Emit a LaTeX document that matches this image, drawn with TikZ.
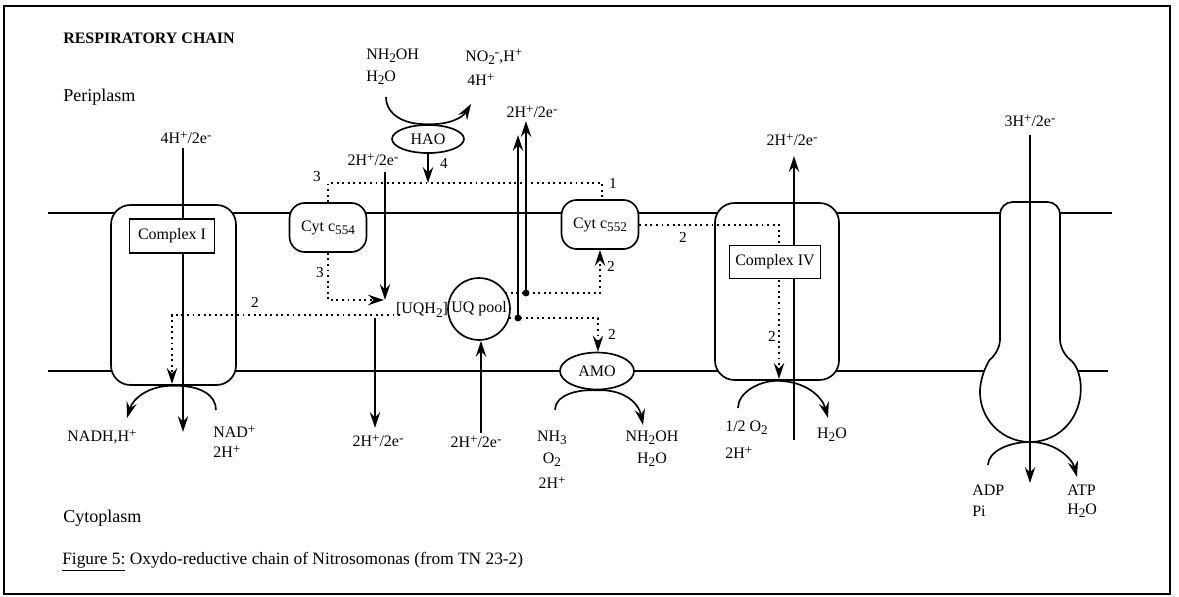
\documentclass[tikz,border=0pt]{standalone}
\usepackage{fontspec}
\setmainfont{Liberation Serif}
\usetikzlibrary{arrows.meta,shapes.geometric}
\newcommand{\msub}[1]{\raisebox{-0.45ex}{\fontsize{9.5}{9.5}\selectfont #1}}
\newcommand{\msup}[1]{\raisebox{0.6ex}{\fontsize{9.5}{9.5}\selectfont #1}}
\tikzset{
  ln/.style={line width=1.2pt},
  tip/.style={-{Stealth[length=11.5pt,width=7.5pt,inset=4pt]}},
  arr/.style={ln, tip},
  dotl/.style={line width=1.4pt, dash pattern=on 1.4pt off 2.6pt},
  darr/.style={dotl, tip},
  lbl/.style={font=\fontsize{11.5}{13}\selectfont, inner sep=0pt},
  num/.style={font=\fontsize{11}{13}\selectfont, inner sep=0pt},
  cplx/.style={draw, ln, fill=white, rounded corners=14pt, inner sep=0pt},
  cyt/.style={draw, ln, fill=white, rounded corners=11pt, inner sep=0pt, font=\fontsize{11.5}{13}\selectfont},
  tbox/.style={draw, ln, fill=white, inner sep=0pt, font=\fontsize{11.5}{13}\selectfont},
  enz/.style={draw, ln, fill=white, ellipse, inner sep=0pt, font=\fontsize{11.5}{13}\selectfont},
  jdot/.style={circle, fill, inner sep=0pt, minimum size=5pt},
}
\begin{document}
\begin{tikzpicture}[x=0.72pt,y=-0.72pt]
\useasboundingbox (0,0) rectangle (1179,597);
\draw[line width=1.3pt] (4,6) rectangle (1170,594);

% titles
\node[anchor=west, font=\bfseries\fontsize{11.5}{13}\selectfont, inner sep=0pt] (title) at (63,38) {RESPIRATORY CHAIN};
\node[anchor=west, font=\fontsize{13}{15}\selectfont, inner sep=0pt] (peri) at (63,97) {Periplasm};
\node[anchor=west, font=\fontsize{13}{15}\selectfont, inner sep=0pt] (cyto) at (63,518) {Cytoplasm};
\node[anchor=west, font=\fontsize{12.5}{15}\selectfont, inner sep=0pt] (cap) at (62,562) {\underline{Figure 5:} Oxydo-reductive chain of Nitrosomonas (from TN 23-2)};

% membrane
\coordinate (mtl) at (48,213); \coordinate (mtr) at (1112,213);
\coordinate (mbl) at (48,371); \coordinate (mbr) at (1108,371);
\draw[ln] (mtl) -- (mtr);
\draw[ln] (mbl) -- (mbr);

% proteins
\node[cplx, minimum width=90pt, minimum height=129.6pt] (CI) at (173.5,295) {};
\node[cplx, minimum width=89.3pt, minimum height=127.4pt] (CIV) at (777,291.5) {};
\node[cyt, minimum width=55.4pt, minimum height=35.3pt] (c554) at (328,227.5) {Cyt c\msub{554}};
\node[cyt, minimum width=55.4pt, minimum height=35.3pt] (c552) at (600,224.5) {Cyt c\msub{552}};
\node[enz, minimum width=51.8pt, minimum height=20.2pt] (HAO) at (428,139) {HAO};
\node[enz, minimum width=53.3pt, minimum height=26.6pt] (AMO) at (597,371) {AMO};
\node[draw, ln, fill=white, circle, inner sep=0pt, minimum size=44.6pt, font=\fontsize{11.5}{13}\selectfont] (UQ) at (479,309) {UQ pool};
\draw[ln, fill=white, rounded corners=9pt] (1030,202) -- (1060,202) -- (1060,352)
  arc[start angle=53.13, end angle=-233.13, radius=36pt] -- (1000,202) -- cycle;

% ---- Complex I
\node[lbl] (l1) at (186,138) {4H\msup{+}/2e\msup{-}};
\coordinate (e1) at (183,432);
\draw[arr] ([yshift=-3pt]l1.south -| e1) -- (e1);
\coordinate (c1s) at (216,410); \coordinate (c1e) at (127,418);
\draw[arr] (c1s) .. controls (216,395) and (200,385) .. (CI.south) .. controls (150,385) and (133,398) .. (c1e);
\node[lbl] (nadh) at (102,437) {NADH,H\msup{+}};
\node[lbl, anchor=west] (nad) at (213,432) {NAD\msup{+}};
\node[lbl, anchor=west] (h2a) at (213,452) {2H\msup{+}};

% ---- UQH2 and dotted 2 to Complex I
\node[lbl] (uqh) at (422,310) {[UQH\msub{2}]};
\coordinate (d2a) at (400,315); \coordinate (d2b) at (172,315); \coordinate (d2c) at (172,384);
\draw[darr] (d2a) -- (d2b) -- (d2c);
\node[num] (n2a) at (255,302) {2};

% ---- Cyt c554 links
\coordinate (t1) at (328,183); \coordinate (t2) at (602,183);
\draw[dotl] (c554.north) -- (t1) -- (t2) -- (t2 |- c552.north);
\node[num] (n3a) at (317,177) {3};
\node[num] (n1) at (613,183) {1};
\coordinate (b1) at (328,300); \coordinate (b2) at (384,300);
\draw[darr] (c554.south) -- (b1) -- (b2);
\node[num] (n3b) at (320,273) {3};

% HAO
\coordinate (h4) at (428,183);
\draw[arr] (HAO.south) -- (h4);
\node[num] (n4) at (444,163) {4};
\coordinate (hs) at (386,97); \coordinate (he) at (471,104);
\draw[arr] (hs) .. controls (386,115) and (405,125) .. (HAO.north) .. controls (450,125) and (463,117) .. (he);
\node[lbl, anchor=west] (nh2oh) at (366,56) {NH\msub{2}OH};
\node[lbl, anchor=west] (h2o1) at (366,78) {H\msub{2}O};
\node[lbl, anchor=west] (no2) at (465,57) {NO\msub{2}\msup{-},H\msup{+}};
\node[lbl, anchor=west] (h4p) at (467,80) {4H\msup{+}};

% 2H+/2e- into UQH2
\node[lbl] (l2) at (373,160) {2H\msup{+}/2e\msup{-}};
\coordinate (a2s) at (385,172);
\draw[arr] (a2s) -- (b2 -| a2s);

% UQH2 out to cytoplasm
\node[lbl] (l3) at (378,441) {2H\msup{+}/2e\msup{-}};
\coordinate (a3s) at (375,318); \coordinate (a3e) at (375,428);
\draw[arr] (a3s) -- (a3e);

% into UQ pool from cytoplasm
\node[lbl] (l4) at (476,442) {2H\msup{+}/2e\msup{-}};
\coordinate (a4s) at (481,433);
\draw[arr] (a4s) -- (UQ.south -| a4s);

% double arrows to periplasm
\node[jdot] (j1) at (526,293) {};
\node[jdot] (j2) at (518,318) {};
\coordinate (u1) at (526,121); \coordinate (u2) at (518,135);
\draw[arr] (j1.center) -- (u1);
\draw[arr] (j2.center) -- (u2);
\node[lbl] (l5) at (532,112) {2H\msup{+}/2e\msup{-}};
\coordinate (q1) at (505,293); \coordinate (q2) at (600,293);
\draw[darr] (q1) -- (j1.center) -- (q2) -- (q2 |- c552.south);
\node[num] (n2b) at (611,266) {2};
\coordinate (q3) at (509,318); \coordinate (q4) at (598,318);
\draw[darr] (q3) -- (j2.center) -- (q4) -- (q4 |- AMO.north);
\node[num] (n2c) at (612,334) {2};

% AMO reaction
\coordinate (as) at (555,410); \coordinate (ae) at (643,425);
\draw[arr] (as) .. controls (555,396) and (575,389) .. (AMO.south) .. controls (620,389) and (638,400) .. (ae);
\node[lbl] (nh3) at (552,438) {NH\msub{3}};
\node[lbl] (o2) at (552,460) {O\msub{2}};
\node[lbl] (h2b) at (552,483) {2H\msup{+}};
\node[lbl] (nh2oh2) at (652,438) {NH\msub{2}OH};
\node[lbl] (h2o2) at (652,460) {H\msub{2}O};

% Cyt c552 to Complex IV
\coordinate (k1) at (779,225); \coordinate (k2) at (779,379);
\draw[darr] (c552.east |- k1) -- (k1) -- (k2);
\node[num] (n2d) at (683,237) {2};
\node[num] (n2e) at (772,336) {2};

% Complex IV
\node[lbl] (l6) at (792,140) {2H\msup{+}/2e\msup{-}};
\coordinate (v1) at (794,440); \coordinate (v2) at (794,156);
\draw[arr] (v1) -- (v2);
\coordinate (cs4) at (738,408); \coordinate (ce4) at (828,418);
\draw[arr] (cs4) .. controls (738,393) and (758,381) .. (CIV.south) .. controls (805,381) and (822,396) .. (ce4);
\node[lbl, anchor=west] (o2h) at (725,428) {1/2 O\msub{2}};
\node[lbl, anchor=west] (h2c) at (725,453) {2H\msup{+}};
\node[lbl] (h2o3) at (832,435) {H\msub{2}O};

% ATP synthase
\node[lbl] (l7) at (1030,121) {3H\msup{+}/2e\msup{-}};
\coordinate (w1) at (1030,135); \coordinate (w2) at (1030,483);
\draw[arr] (w1) -- (w2);
\coordinate (ps) at (988,465); \coordinate (pe) at (1077,477);
\coordinate (pm) at (1030,442);
\draw[arr] (ps) .. controls (988,452) and (1008,442) .. (pm) .. controls (1055,442) and (1072,458) .. (pe);
\node[lbl, anchor=west] (adp) at (972,490) {ADP};
\node[lbl, anchor=west] (pi) at (972,511) {Pi};
\node[lbl, anchor=west] (atp) at (1067,490) {ATP};
\node[lbl, anchor=west] (h2o4) at (1067,511) {H\msub{2}O};

% inner label boxes
\node[tbox, minimum width=61.2pt, minimum height=24.5pt] (CIb) at (172,236) {Complex I};
\node[tbox, minimum width=65.5pt, minimum height=23.8pt] (CIVb) at (775,262) {Complex IV};
\end{tikzpicture}
\end{document}
